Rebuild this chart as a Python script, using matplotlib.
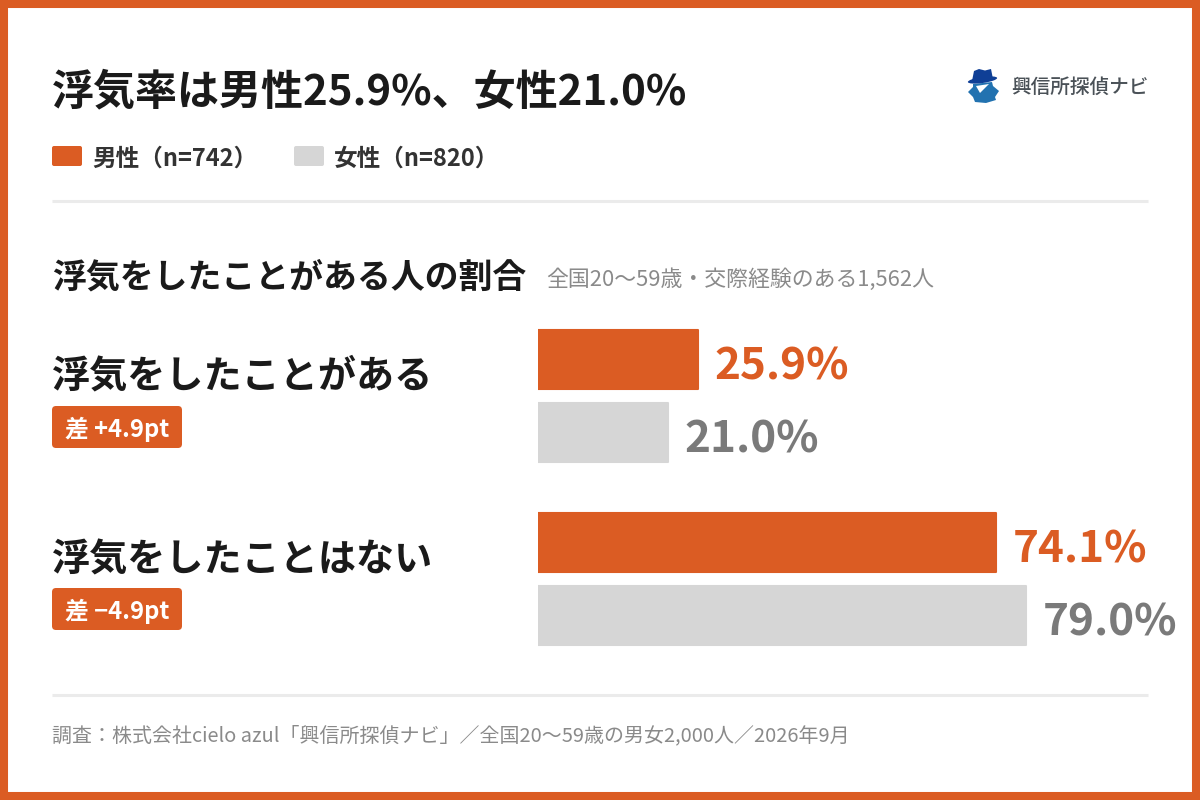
"""
Recreates the cheating-rate comparison chart (men vs women)
"""

import matplotlib
matplotlib.use('Agg')  # Use non-interactive backend
import matplotlib.pyplot as plt
from matplotlib.patches import Polygon, FancyBboxPatch, Rectangle, Ellipse

plt.rcParams['font.family'] = ['Noto Sans CJK JP', 'DejaVu Sans']

# Data
categories = ["浮気をしたことがある", "浮気をしたことはない"]
male_values = [25.9, 74.1]
female_values = [21.0, 79.0]
diff_labels = ["差 +4.9pt", "差 −4.9pt"]
legend_labels = ["男性（n=742）", "女性（n=820）"]

TITLE = "浮気率は男性25.9%、女性21.0%"
SUBTITLE = "浮気をしたことがある人の割合"
NOTE = "全国20〜59歳・交際経験のある1,562人"
SOURCE = "調査：株式会社cielo azul「興信所探偵ナビ」／全国20〜59歳の男女2,000人／2026年9月"
BRAND = "興信所探偵ナビ"

ORANGE = "#DB5C23"
GRAY = "#D6D6D6"
GRAY_TEXT = "#7A7A7A"
DARK = "#1A1A1A"
NOTE_GRAY = "#8A8A8A"
RULE = "#EBEBEB"


def px(size):
    # font size in pixels to points at dpi 100
    return size * 0.72


fig = plt.figure(figsize=(12, 8), dpi=100, facecolor="white")

# Overlay in pixel coordinates for the card furniture
bg = fig.add_axes([0, 0, 1, 1])
bg.set_xlim(0, 1200)
bg.set_ylim(800, 0)
bg.axis("off")

bg.add_patch(Rectangle((4, 4), 1192, 792, fill=False, edgecolor=ORANGE, linewidth=5.8))

bg.text(52, 88, TITLE, fontsize=px(42.05), fontweight="bold", color=DARK, va="center_baseline")

# Legend
for x, color, label in zip([52, 294], [ORANGE, GRAY], legend_labels):
    bg.add_patch(FancyBboxPatch((x + 1, 147), 28, 18, boxstyle="round,pad=1,rounding_size=2",
                                facecolor=color, edgecolor="none"))
    bg.text(x + 40, 156.5, label, fontsize=px(23.6), fontweight="bold", color="#333333", va="center_baseline")

bg.plot([52, 1148], [201, 201], color=RULE, linewidth=2.2, solid_capstyle="butt")
bg.plot([52, 1148], [695, 695], color=RULE, linewidth=2.2, solid_capstyle="butt")

bg.text(52, 274, SUBTITLE, fontsize=px(33.9), fontweight="bold", color=DARK, va="center_baseline")
bg.text(546, 277.5, NOTE, fontsize=px(21.9), color=NOTE_GRAY, va="center_baseline")
bg.text(52, 733, SOURCE, fontsize=px(19.95), color=NOTE_GRAY, va="center_baseline")

# Logo
bg.add_patch(Polygon([(973, 84), (992, 82), (993, 86), (999, 91), (995, 97), (996, 100), (986, 103),
                      (975, 102), (973, 97), (968, 92), (973, 87)],
                     closed=True, facecolor="#2272B0", edgecolor="none"))
bg.add_patch(Polygon([(976, 86), (989, 84), (980, 93)], closed=True, facecolor="white", edgecolor="none"))
bg.add_patch(Ellipse((982.5, 80), 29.5, 6, angle=-8, facecolor="#0F3F96", edgecolor="none"))
bg.add_patch(Polygon([(972, 81), (974, 71), (979, 69), (985, 70.5), (991, 69), (993, 79)], closed=True,
                     facecolor="#0F3F96", edgecolor="none"))
bg.text(1011, 85.5, BRAND, fontsize=px(19.6), fontweight="medium", color="#4A5157", va="center_baseline")

# Row labels and difference badges
label_y = [372, 555.5]
badge_y = [427, 609]
for name, diff, ly, by in zip(categories, diff_labels, label_y, badge_y):
    bg.text(52, ly, name, fontsize=px(38.1), fontweight="bold", color=DARK, va="center_baseline")
    bg.add_patch(FancyBboxPatch((54, by - 19), 126, 38, boxstyle="round,pad=2,rounding_size=4",
                                facecolor=ORANGE, edgecolor="none"))
    bg.text(65, by, diff, fontsize=px(23.8), fontweight="bold", color="white", va="center_baseline")

# Bars: 6.18 px per percentage point, 183 px per group
ax = fig.add_axes([538 / 1200, 1 - 670.5 / 800, 618 / 1200, 366 / 800])
ax.set_xlim(0, 100)
ax.set_ylim(1.5, -0.5)
ax.axis("off")

for i, (m, f) in enumerate(zip(male_values, female_values)):
    ax.barh(i - 0.2, m, height=0.322, color=ORANGE, edgecolor=ORANGE, linewidth=1.5, joinstyle="round")
    ax.barh(i + 0.2, f, height=0.322, color=GRAY, edgecolor=GRAY, linewidth=1.5, joinstyle="round")
    ax.annotate(f"{m:.1f}%", (m, i - 0.2), xytext=(12, -2), textcoords="offset points",
                fontsize=px(44), fontweight="bold", color=ORANGE, va="center_baseline", annotation_clip=False)
    ax.annotate(f"{f:.1f}%", (f, i + 0.2), xytext=(12, -1.5), textcoords="offset points",
                fontsize=px(44), fontweight="bold", color=GRAY_TEXT, va="center_baseline", annotation_clip=False)

plt.savefig("out.png", dpi=100)
plt.close()
